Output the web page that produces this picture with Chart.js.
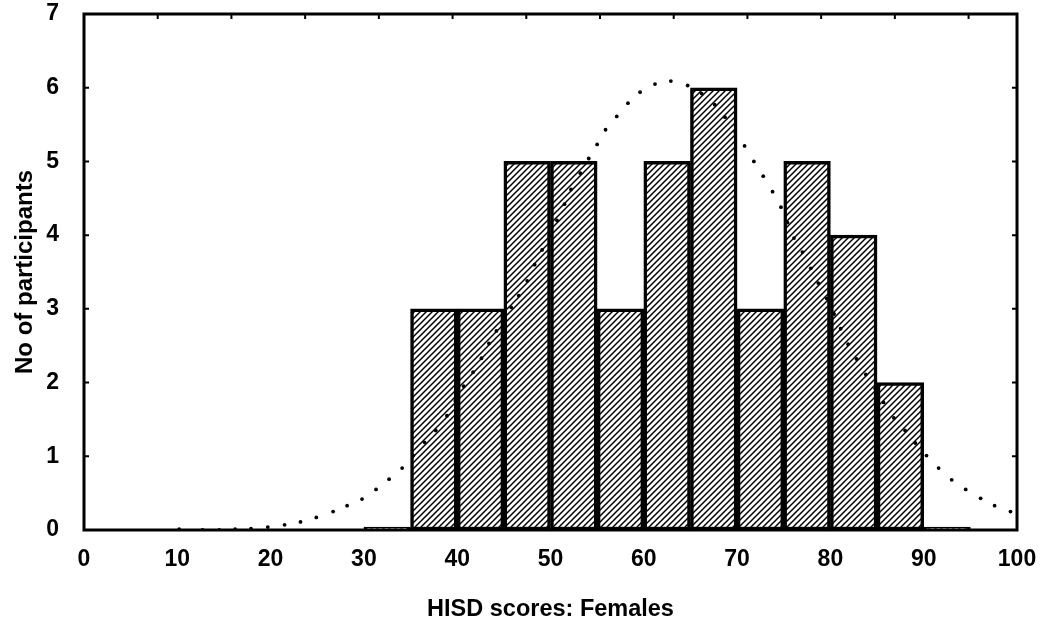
<!DOCTYPE html>
<html>
<head>
<meta charset="utf-8">
<script src="https://cdn.jsdelivr.net/npm/chart.js@4.4.1/dist/chart.umd.min.js"></script>
<style>
  body { margin: 0; background: #fff; }
</style>
</head>
<body>
<canvas id="grafico" width="1060" height="624"></canvas>
<script>
// histogram bins (width 5), lower edge of each bin
var binStart = [30, 35, 40, 45, 50, 55, 60, 65, 70, 75, 80, 85, 90]
var contagem = [0.04, 3, 3, 5, 5, 3, 5, 6, 3, 5, 4, 2, 0.04]

// dotted fitted curve
var curvaX = [10.2, 12.7, 14.5, 16.2, 17.9, 19.7, 21.5, 23.2, 24.9, 26.7, 28.2, 29.8, 31.3, 32.7, 34.1, 35.3, 36.5, 37.7, 38.9, 39.8, 40.7, 41.7, 42.6, 43.4, 44.2, 45.0, 45.8, 46.6, 47.5, 48.3, 49.1, 49.9, 50.7, 51.5, 52.2, 53.2, 54.1, 55.0, 55.9, 57.1, 58.3, 59.6, 61.2, 62.9, 64.7, 66.2, 67.6, 68.7, 69.8, 70.8, 71.8, 72.8, 73.8, 74.7, 75.4, 76.1, 77.0, 77.9, 78.7, 79.6, 80.4, 81.1, 81.9, 82.8, 83.8, 84.8, 85.7, 86.8, 88.0, 89.1, 90.3, 91.6, 93.0, 94.5, 96.1, 97.6, 99.3]
var curvaY = [0.01, 0.0, 0.0, 0.01, 0.02, 0.04, 0.07, 0.11, 0.17, 0.25, 0.33, 0.42, 0.55, 0.69, 0.84, 1.01, 1.19, 1.35, 1.55, 1.75, 1.95, 2.14, 2.33, 2.53, 2.70, 2.88, 3.02, 3.18, 3.38, 3.60, 3.80, 4.00, 4.20, 4.42, 4.62, 4.84, 5.04, 5.23, 5.43, 5.61, 5.79, 5.94, 6.05, 6.09, 6.03, 5.92, 5.77, 5.60, 5.40, 5.21, 5.00, 4.80, 4.59, 4.38, 4.17, 3.96, 3.77, 3.55, 3.35, 3.14, 2.93, 2.73, 2.52, 2.32, 2.11, 1.92, 1.73, 1.52, 1.35, 1.18, 1.01, 0.84, 0.68, 0.55, 0.43, 0.33, 0.25]

var xTicks = [0, 10, 20, 30, 40, 50, 60, 70, 80, 90, 100]
var yTicks = [0, 1, 2, 3, 4, 5, 6, 7]

var fonte = '"Liberation Sans", Arial, Helvetica, sans-serif'

// hatch pattern ////
function hachura() {
  var n = 6
  var c = document.createElement('canvas')
  c.width = n; c.height = n
  var g = c.getContext('2d')
  g.fillStyle = '#fff'
  g.fillRect(0, 0, n, n)
  g.strokeStyle = '#000'
  g.lineWidth = 1.5
  g.beginPath()
  g.moveTo(-1, n + 1); g.lineTo(n + 1, -1)
  g.moveTo(-1, 1); g.lineTo(1, -1)
  g.moveTo(n - 1, n + 1); g.lineTo(n + 1, n - 1)
  g.stroke()
  return g.createPattern(c, 'repeat')
}

var barras = binStart.map(function (b, i) { return { x: b + 2.5, y: contagem[i] } })
var pontos = curvaX.map(function (x, i) { return { x: x, y: curvaY[i] } })

// frame with inward ticks
var moldura = {
  id: 'moldura',
  afterDraw: function (chart) {
    var c = chart.ctx, a = chart.chartArea
    var ys = chart.scales.y
    c.save()
    c.strokeStyle = '#000'
    c.lineWidth = 2
    c.beginPath()
    yTicks.forEach(function (v) {
      var py = ys.getPixelForValue(v)
      c.moveTo(a.left, py); c.lineTo(a.left + 5, py)
      c.moveTo(a.right, py); c.lineTo(a.right - 5, py)
    })
    var passo = ys.getPixelForValue(0) - ys.getPixelForValue(1)
    for (var px = a.left + passo; px < a.right - 10; px += passo) {
      c.moveTo(px, a.top); c.lineTo(px, a.top + 5)
    }
    c.stroke()
    c.lineWidth = 3
    c.strokeRect(a.left, a.top, a.right - a.left, a.bottom - a.top)
    c.restore()
  }
}

new Chart(document.getElementById('grafico'), {
  type: 'bar',
  data: {
    datasets: [{
      type: 'line',
      data: pontos,
      showLine: false,
      pointRadius: 1.9,
      pointBackgroundColor: '#000',
      pointBorderWidth: 0,
      order: 0
    }, {
      data: barras,
      backgroundColor: hachura(),
      borderColor: '#000',
      borderWidth: 3.5,
      borderSkipped: false,
      barPercentage: 1,
      categoryPercentage: 1,
      order: 1
    }]
  },
  options: {
    responsive: false,
    animation: false,
    layout: { padding: { top: 14, right: 43, left: 0, bottom: 0 } },
    plugins: { legend: { display: false }, tooltip: { enabled: false } },
    scales: {
      x: {
        type: 'linear',
        offset: false,
        min: 0, max: 100,
        grid: { display: false },
        border: { display: false },
        afterBuildTicks: function (s) { s.ticks = xTicks.map(function (v) { return { value: v } }) },
        afterFit: function (s) { s.height = 94 },
        ticks: { color: '#000', padding: 8, maxRotation: 0, font: { family: fonte, size: 23, weight: 'bold' } },
        title: { display: true, text: 'HISD scores: Females', color: '#000', padding: 0, font: { family: fonte, size: 23.5, weight: 'bold' } }
      },
      y: {
        min: 0, max: 7,
        grid: { display: false },
        border: { display: false },
        afterBuildTicks: function (s) { s.ticks = yTicks.map(function (v) { return { value: v } }) },
        afterFit: function (s) { s.width = 84; s.paddingTop = 0; s.paddingBottom = 0 },
        ticks: { color: '#000', padding: 17, font: { family: fonte, size: 23, weight: 'bold' } },
        title: { display: true, text: 'No of participants', color: '#000', padding: 11, font: { family: fonte, size: 24, weight: 'bold' } }
      }
    }
  },
  plugins: [moldura]
})
</script>
</body>
</html>
